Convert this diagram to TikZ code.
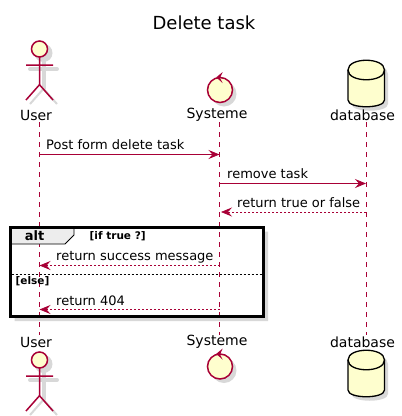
\documentclass[tikz,border=0pt]{standalone}
\usepackage{fontspec}
\setmainfont{DejaVu Sans}
\usepackage{tikz}
\usetikzlibrary{arrows.meta,positioning}
\definecolor{umlred}{HTML}{A80036}
\definecolor{umlfill}{HTML}{FEFECE}
\definecolor{umlshadow}{HTML}{D8D8D8}
\tikzset{
  lifeline/.style={draw=umlred,line width=.8pt,dash pattern=on 5pt off 5pt},
  message/.style={draw=umlred,line width=.8pt,-{Stealth[length=11pt,width=9pt,inset=4pt]}},
  reply/.style={message,dash pattern=on 2pt off 2pt},
  msgtext/.style={anchor=west,inner sep=0pt,font=\fontsize{13}{15}\selectfont},
  actorname/.style={inner sep=0pt,font=\fontsize{14}{16}\selectfont},
  guard/.style={inner sep=0pt,font=\fontsize{10.5}{12}\selectfont\bfseries},
  actorline/.style={draw=umlred,line width=1.5pt},
  shadowline/.style={draw=umlshadow,line width=4pt},
}
\newcommand{\dbshape}{(348,70) -- (348,100) .. controls (348,109) and (384.5,109) .. (384.5,100) -- (384.5,70) .. controls (384.5,57) and (348,57) .. (348,70) -- cycle}
\begin{document}
\begin{tikzpicture}[x=1pt,y=-1pt]
      \useasboundingbox (0,0) rectangle (402,416);
      \node[font=\fontsize{18}{20}\selectfont,inner sep=0pt](title) at (204,23) {Delete task};
      % lifelines
      \coordinate(userTop) at (39.5,122);
      \coordinate(userBot) at (39.5,335);
      \coordinate(sysTop) at (219.5,122);
      \coordinate(sysBot) at (219.5,335);
      \coordinate(dbTop) at (366,122);
      \coordinate(dbBot) at (366,335);
      \draw[lifeline] (userTop) -- (userBot);
      \draw[lifeline] (sysTop) -- (sysBot);
      \draw[lifeline] (dbTop) -- (dbBot);
      % participants, top then bottom
      \foreach \d/\t in {0/0,311/290} {
        \begin{scope}[yshift=-\d pt]
          \draw[shadowline,line cap=round] (43.5,61) -- (43.5,88.7) (30,69) -- (57,69);
          \draw[shadowline,line width=2pt] (43.5,88.7) -- (30,104) (43.5,88.7) -- (57,104);
          \fill[umlshadow] (43.5,53) circle (9);
          \draw[actorline,fill=umlfill] (39.5,49) circle (8);
          \draw[actorline] (39.5,57) -- (39.5,84.7) -- (26,100) (39.5,84.7) -- (53,100) (26,65) -- (53,65);
        \end{scope}
        \begin{scope}[yshift=-\t pt]
          \fill[umlshadow,shift={(3.5,4)}] \dbshape;
          \path[fill=umlfill,draw=black,line width=1.3pt] \dbshape;
          \draw[black,line width=1.3pt] (348,70) .. controls (348,83) and (384.5,83) .. (384.5,70);
        \end{scope}
      }
      \foreach \c in {90,366.5} {
        \fill[umlshadow] (224,\c+4) circle (12.5);
        \draw[actorline,fill=umlfill] (220,\c) circle (12.5);
        \fill[umlred] (216.3,\c-12.7) -- (222.7,\c-18) -- (220,\c-12) -- (222.7,\c-6.8) -- cycle;
      }
      \node[actorname](user) at (36,115) {User};
      \node[actorname](systeme) at (217,115) {Systeme};
      \node[actorname](database) at (362.5,115) {database};
      \node[actorname](user2) at (36,342) {User};
      \node[actorname](systeme2) at (217,342) {Systeme};
      \node[actorname](database2) at (362.5,342) {database};
      % messages
      \coordinate(m1a) at (39.5,154.5);
      \coordinate(m1b) at (219.5,154.5);
      \coordinate(m2a) at (219.5,183.5);
      \coordinate(m2b) at (366,183.5);
      \coordinate(m3a) at (366,212);
      \coordinate(m3b) at (221,212);
      \draw[message] (m1a) to (m1b);
      \draw[message] (m2a) to (m2b);
      \draw[reply] (m3a) to (m3b);
      \node[msgtext](post) at (46,145) {Post form delete task};
      \node[msgtext](remove) at (227,173.5) {remove task};
      \node[msgtext](truefalse) at (237,203) {return true or false};
      % alt frame
      \fill[umlshadow] (14.5,316.5) rectangle (268,321) (263.5,231.5) rectangle (268,321);
      \coordinate(altA) at (10.5,227.5);
      \coordinate(altB) at (263.5,316.5);
      \path[fill=black!7] (altA) -- (74,227.5) -- (74,235) -- (65,244) -- (10.5,244) -- cycle;
      \draw[line width=.8pt] (74,227.5) -- (74,235) -- (65,244) -- (10.5,244);
      \draw[line width=2.3pt] (altA) rectangle (altB);
      \node[inner sep=0pt,font=\fontsize{13}{15}\selectfont\bfseries](alt) at (34.5,236) {alt};
      \node[guard,anchor=west](iftrue) at (89.5,236) {[if true ?]};
      \coordinate(divA) at (11.5,274.5);
      \coordinate(divB) at (262.5,274.5);
      \draw[line width=.8pt,dash pattern=on 2pt off 2pt] (divA) -- (divB);
      \node[guard,anchor=west](else) at (15.5,281.5) {[else]};
      \coordinate(m4a) at (219.5,265.5);
      \coordinate(m4b) at (39.5,265.5);
      \coordinate(m5a) at (219.5,309.5);
      \coordinate(m5b) at (39.5,309.5);
      \draw[reply] (m4a) to (m4b);
      \draw[reply] (m5a) to (m5b);
      \node[msgtext](success) at (56,257) {return success message};
      \node[msgtext](notfound) at (56,300.5) {return 404};
    \end{tikzpicture}
\end{document}
